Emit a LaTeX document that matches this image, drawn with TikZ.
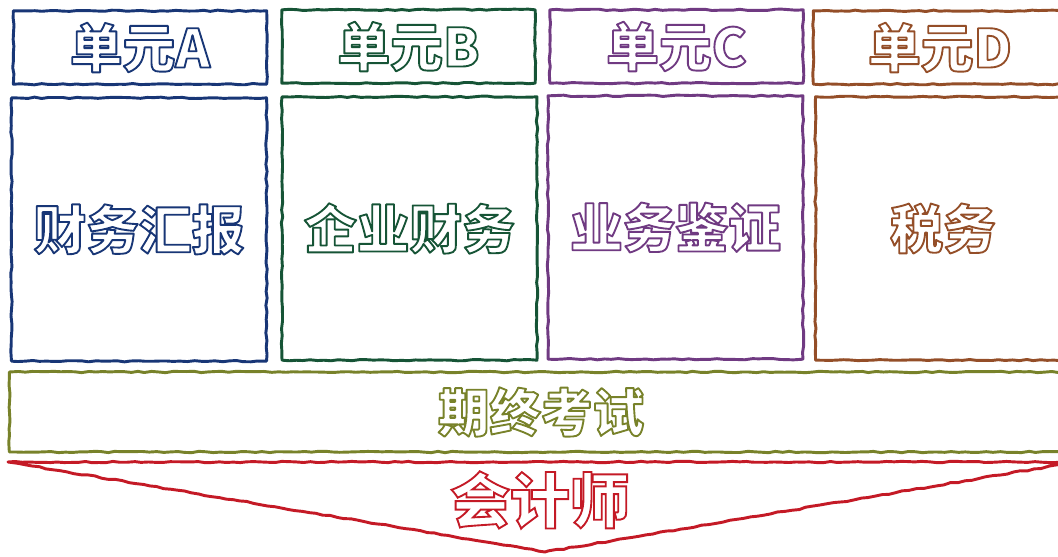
\documentclass[tikz,border=0pt]{standalone}
\usepackage{fontspec}
\usetikzlibrary{decorations.pathmorphing}
\newfontfamily\cjk{Noto Sans CJK SC}
\definecolor{unitA}{RGB}{24,54,118}
\definecolor{unitB}{RGB}{22,84,54}
\definecolor{unitC}{RGB}{112,58,130}
\definecolor{unitD}{RGB}{148,78,40}
\definecolor{exam}{RGB}{120,130,42}
\definecolor{goal}{RGB}{196,26,38}
% outlined letters: stroke in the colour, fill white
\newcommand{\hollow}[2]{{\color{#1}\special{pdf:literal direct 2 Tr 1.6 w 1 1 1 rg}#2\special{pdf:literal direct 0 Tr}}}

\begin{document}
\begin{tikzpicture}[
  x=0.03cm, y=-0.03cm,
  sketch/.style={line width=2.5pt, line join=round, decorate,
    decoration={random steps, segment length=6pt, amplitude=0.6pt}},
  head/.style={sketch, draw=#1, minimum width=7.6cm, minimum height=2.2cm,
    inner sep=0pt, font=\cjk\bfseries\fontsize{45}{45}\selectfont},
  body/.style={sketch, draw=#1, minimum width=7.65cm, minimum height=7.9cm,
    inner sep=0pt, font=\cjk\bfseries\fontsize{45}{45}\selectfont}
]
\useasboundingbox (0,0) rectangle (1058,556);

% Unit headers
\node[head=unitA] (hA) at (140,47.5)  {\hollow{unitA}{单元A}};
\node[head=unitB] (hB) at (408.5,46.5) {\hollow{unitB}{单元B}};
\node[head=unitC] (hC) at (676.5,46.5) {\hollow{unitC}{单元C}};
\node[head=unitD] (hD) at (940,47.5)   {\hollow{unitD}{单元D}};

% Unit contents
\node[body=unitA] (bA) at (139,229.5)   {\hollow{unitA}{财务汇报}};
\node[body=unitB] (bB) at (409.5,228.5) {\hollow{unitB}{企业财务}};
\node[body=unitC] (bC) at (675.5,227.5) {\hollow{unitC}{业务鉴证}};
\node[body=unitD] (bD) at (943,228.5)   {\hollow{unitD}{税务}};

% Final exam bar
\node[sketch, draw=exam, minimum width=31.9cm, minimum height=2.4cm, inner sep=0pt,
  font=\cjk\bfseries\fontsize{44}{44}\selectfont] (ex) at (541,412) {\hollow{exam}{期终考试}};

% Goal arrow
\coordinate (gL) at (8,462);
\coordinate (gR) at (1076,462);
\coordinate (gT) at (545,552);
\draw[sketch, draw=goal] (gL) -- (gR) -- (gT) -- cycle;
\node[font=\cjk\bfseries\fontsize{51}{51}\selectfont] (go) at (540,500) {\hollow{goal}{会计师}};

\end{tikzpicture}
\end{document}
